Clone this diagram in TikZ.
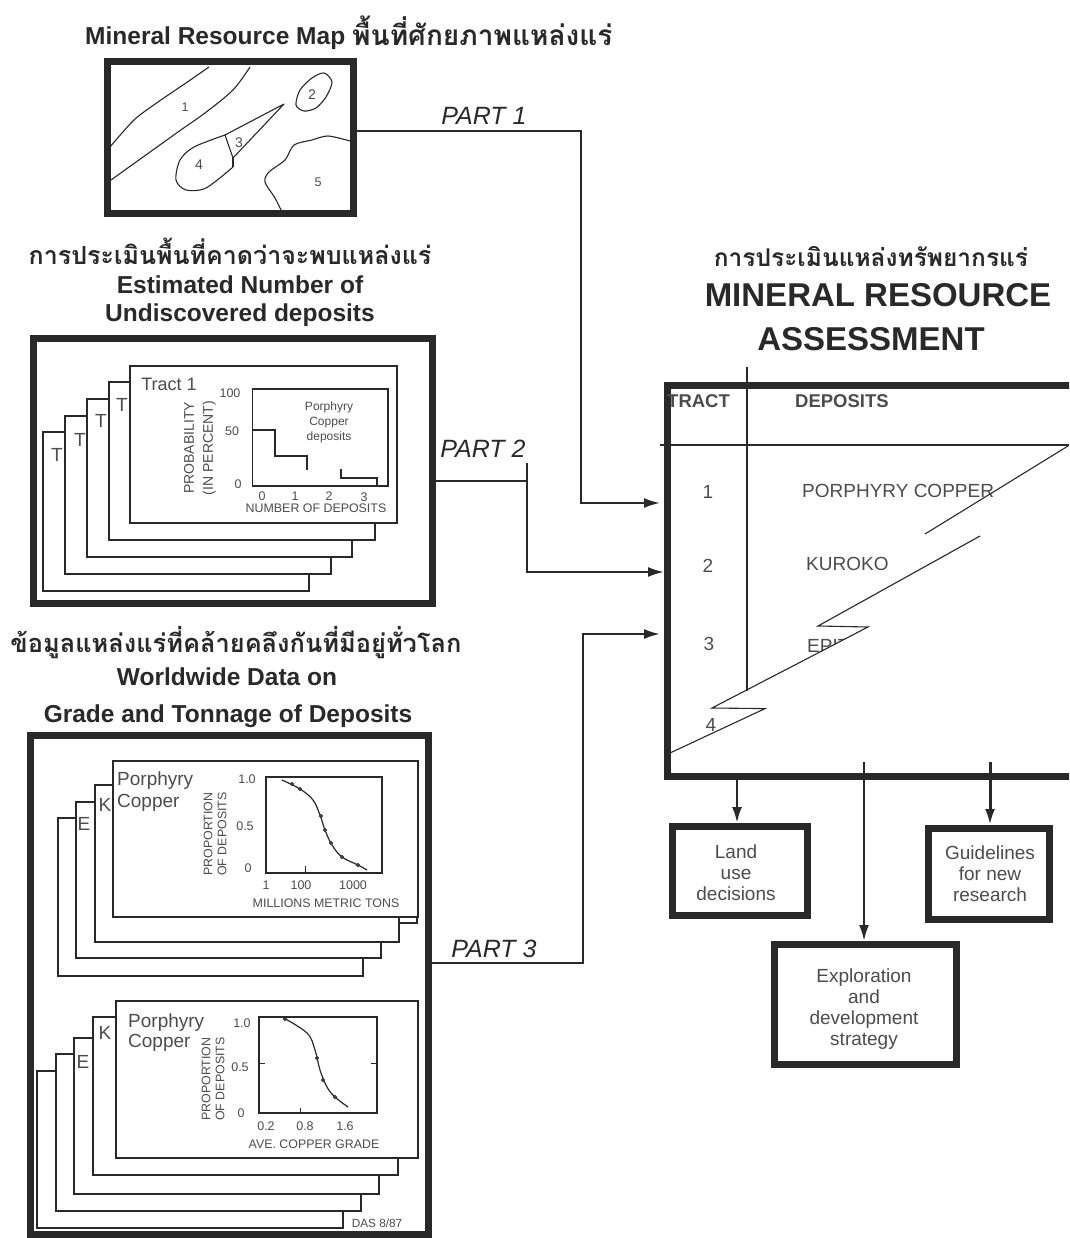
\documentclass[tikz,border=0pt]{standalone}
\usepackage{fontspec}
\setmainfont{Liberation Sans}
\newfontfamily\thaifont[Script=Thai]{Loma}
\usetikzlibrary{arrows.meta}
\definecolor{ink}{gray}{0.16}
\definecolor{soft}{gray}{0.30}
\tikzset{
  frame/.style={draw=ink,fill=white,line width=7pt,inner sep=0pt},
  sheet/.style={draw=ink,fill=white,line width=1.4pt,inner sep=0pt},
  chart/.style={draw=ink,fill=white,line width=1.3pt,inner sep=0pt},
  thin map/.style={draw=ink,line width=1.1pt,line join=round},
  conn/.style={draw=ink,line width=2pt,line join=miter},
  arr/.style={conn,-{Latex[length=16pt,width=10pt]}},
  curve/.style={draw=ink,line width=1.2pt},
  dot/.style={draw=ink,fill=soft,circle,inner sep=0pt,minimum size=3.5pt},
  txt/.style={text=soft,inner sep=0pt,align=center},
  head/.style={text=ink,inner sep=0pt,align=center,anchor=base,font=\bfseries\fontsize{24.5}{28}\selectfont},
  bighead/.style={head,font=\bfseries\fontsize{33}{36}\selectfont},
  thaih/.style={text=ink,inner sep=0pt,anchor=base,font=\thaifont\bfseries\fontsize{25}{28}\selectfont},
  part/.style={text=ink,inner sep=0pt,font=\itshape\fontsize{25}{28}\selectfont},
  lab/.style={txt,font=\fontsize{19}{21}\selectfont},
  mid/.style={txt,font=\fontsize{19}{21}\selectfont},
  tiny/.style={txt,font=\fontsize{12.4}{14}\selectfont},
  tick/.style={txt,font=\fontsize{12.5}{14}\selectfont},
  cellhead/.style={txt,anchor=west,font=\bfseries\fontsize{18.5}{20}\selectfont},
  cell/.style={txt,anchor=west,font=\fontsize{19}{21}\selectfont}
}
% rectangle node from corners: name, style, x1,y1,x2,y2
\newcommand{\rectnode}[6]{%
  \pgfmathsetmacro{\rcx}{(#3+#5)/2}\pgfmathsetmacro{\rcy}{(#4+#6)/2}%
  \pgfmathsetmacro{\rw}{#5-#3}\pgfmathsetmacro{\rh}{#6-#4}%
  \node[#2,minimum width=\rw pt,minimum height=\rh pt] (#1) at (\rcx,\rcy) {};}
\begin{document}
\begin{tikzpicture}[x=1pt,y=-1pt]
\clip (0,0) rectangle (1069,1238);
\fill[white] (0,0) rectangle (1069,1238);

% titles
\node[head,anchor=base west] (t1) at (85,45) {Mineral Resource Map};
\node[thaih,anchor=base west,font=\thaifont\bfseries\fontsize{28}{30}\selectfont] (t1b) at (352,46) {พื้นที่ศักยภาพแหล่งแร่};
\node[thaih] (t2a) at (230,265) {การประเมินพื้นที่คาดว่าจะพบแหล่งแร่};
\node[head] (t2b) at (240,294) {Estimated Number of};
\node[head] (t2c) at (240,321) {Undiscovered deposits};
\node[thaih,font=\thaifont\bfseries\fontsize{25.4}{28}\selectfont] (t3a) at (236,652) {ข้อมูลแหล่งแร่ที่คล้ายคลึงกันที่มีอยู่ทั่วโลก};
\node[head] (t3b) at (227,685) {Worldwide Data on};
\node[head] (t3c) at (228,722) {Grade and Tonnage of Deposits};
\node[thaih,font=\thaifont\bfseries\fontsize{24.5}{28}\selectfont] (t4a) at (871,267) {การประเมินแหล่งทรัพยากรแร่};
\node[bighead] (t4b) at (878,306) {MINERAL RESOURCE};
\node[bighead] (t4c) at (871,350) {ASSESSMENT};

% map
\rectnode{map}{frame}{107.5}{61.5}{353.5}{213.5}
\draw[thin map] plot[smooth,tension=0.5] coordinates {(209,67) (186,83) (158,102) (134,120) (110,147)};
\draw[thin map] plot[smooth,tension=0.5] coordinates {(250,67) (233,90) (205,113) (178,132) (111,180)};
\draw[thin map] (284,104) -- (225,135) -- (233,158) -- cycle;
\draw[thin map] plot[smooth,tension=0.5] coordinates {(225,135) (194,147) (180,160) (176,180) (186,190) (206,188) (233,167)};
\draw[thin map] (233,167) -- (233,158);
\draw[thin map] plot[smooth cycle,tension=0.5] coordinates {(324,73) (312,78) (300,90) (296,105) (304,111) (316,108) (326,97) (332,82)};
\draw[thin map] plot[smooth,tension=0.5] coordinates {(350,141) (328,136) (312,140) (294,145) (285,160) (269,172) (265,182) (275,198) (281,210)};
\node[tick] (m1) at (185,107) {1};
\node[tick,font=\fontsize{14}{16}\selectfont] (m2) at (312,95) {2};
\node[tick,font=\fontsize{14}{16}\selectfont] (m3) at (239,143) {3};
\node[tick,font=\fontsize{14}{16}\selectfont] (m4) at (199,165) {4};
\node[tick] (m5) at (318,182) {5};

% estimated number frame
\rectnode{est}{frame}{33.5}{338.5}{432.5}{603.5}
\rectnode{e5}{sheet}{43}{432}{309}{591}
\rectnode{e4}{sheet}{65}{416}{331}{574}
\rectnode{e3}{sheet}{87}{399}{352}{557}
\rectnode{e2}{sheet}{109}{382}{375}{540}
\rectnode{e1}{sheet}{130}{366}{397}{523}
\node[lab] (et5) at (57,455) {T};
\node[lab] (et4) at (80,440) {T};
\node[lab] (et3) at (101,421) {T};
\node[lab] (et2) at (122,405) {T};
\node[lab,font=\fontsize{18}{20}\selectfont] (et1) at (169,384) {Tract 1};
\rectnode{ec}{chart}{252.5}{389}{388}{486}
\draw[line width=2pt,draw=ink] (253,430) -| (275,456) -| (307,470);
\draw[line width=1.8pt,draw=ink] (341,469) |- (377,478) -- (377,486);
\node[tiny,font=\fontsize{12}{15}\selectfont] (ep) at (329,422) {Porphyry\\Copper\\deposits};
\node[tick] (ey1) at (230,393) {100};
\node[tick] (ey2) at (232,431) {50};
\node[tick] (ey3) at (238,484) {0};
\node[tick] (ex0) at (262,496) {0};
\node[tick] (ex1) at (295,496) {1};
\node[tick] (ex2) at (329,496) {2};
\node[tick] (ex3) at (364,497) {3};
\node[tiny] (ext) at (316,508) {NUMBER OF DEPOSITS};
\node[tiny,rotate=90,font=\fontsize{14}{19}\selectfont] (eyt) at (200,448) {PROBABILITY\\(IN PERCENT)};

% worldwide frame
\rectnode{wld}{frame}{30.5}{735.5}{428.5}{1234.5}
\rectnode{u4}{sheet}{58}{818}{363}{976}
\rectnode{u3}{sheet}{76}{802}{381}{958}
\rectnode{u2b}{sheet}{95}{785}{417}{923}
\rectnode{u2}{sheet}{95}{785}{399}{942}
\rectnode{u1}{sheet}{113}{761}{418}{917}
\node[lab] (uk) at (105,805) {K};
\node[lab] (ue) at (84,824) {E};
\node[lab,anchor=west] (up) at (117,781) {Porphyry};
\node[lab,anchor=west] (uc) at (117,803) {Copper};
\rectnode{uch}{chart}{266}{777}{382}{873}
\draw[curve] plot[smooth,tension=0.6] coordinates {(282,780) (300,789) (313,800) (320,815) (325,830) (332,845) (342,857) (358,865) (367,870)};
\foreach \n/\px/\py in {a/292/784,b/300/789,c/321/816,d/325/830,e/331/843,f/342/857,g/358/865}
  \node[dot] (ud\n) at (\px,\py) {};
\draw[draw=ink,line width=1pt] (305,866) -- (305,873);
\node[tick] (uy1) at (247,779) {1.0};
\node[tick] (uy2) at (245,826) {0.5};
\node[tick] (uy3) at (248,868) {0};
\node[tick] (ux1) at (266,885) {1};
\node[tick] (ux2) at (301,885) {100};
\node[tick] (ux3) at (353,885) {1000};
\node[tiny] (uxt) at (326,903) {MILLIONS METRIC TONS};
\node[tiny,rotate=90] (uyt) at (215,834) {PROPORTION\\OF DEPOSITS};

\rectnode{l5}{sheet}{37}{1071}{343}{1228}
\rectnode{l4}{sheet}{56}{1054}{361}{1211}
\rectnode{l3}{sheet}{74}{1038}{379}{1194}
\rectnode{l2}{sheet}{93}{1017}{398}{1175}
\rectnode{l1}{sheet}{116}{1001}{418}{1158}
\node[lab] (lk) at (105,1033) {K};
\node[lab] (le) at (83,1062) {E};
\node[lab,anchor=west] (lp) at (128,1023) {Porphyry};
\node[lab,anchor=west] (lc) at (128,1043) {Copper};
\rectnode{lch}{chart}{259}{1017}{377}{1113}
\draw[curve] plot[smooth,tension=0.6] coordinates {(282,1017) (307,1033) (315,1050) (320,1070) (327,1087) (335,1097) (348,1107)};
\foreach \n/\px/\py in {a/285/1019,b/317/1058,c/323/1080,d/335/1097}
  \node[dot] (ld\n) at (\px,\py) {};
\draw[draw=ink,line width=1pt] (300,1108) -- (300,1113);
\draw[draw=ink,line width=1pt] (259,1063) -- (265,1063);
\draw[draw=ink,line width=1pt] (371,1063) -- (377,1063);
\node[tick] (ly1) at (242,1023) {1.0};
\node[tick] (ly2) at (240,1067) {0.5};
\node[tick] (ly3) at (241,1113) {0};
\node[tick] (lx1) at (266,1126) {0.2};
\node[tick] (lx2) at (305,1126) {0.8};
\node[tick] (lx3) at (345,1126) {1.6};
\node[tiny] (lxt) at (314,1144) {AVE. COPPER GRADE};
\node[tiny,rotate=90] (lyt) at (213,1079) {PROPORTION\\OF DEPOSITS};
\node[tiny,font=\fontsize{11.8}{13}\selectfont] (das) at (377,1223) {DAS 8/87};

% assessment frame
\rectnode{ass}{frame}{667}{385}{1085}{776.5}
\draw[draw=ink,line width=1.6pt] (747,367) -- (747,691);
\draw[draw=ink,line width=1.6pt] (660,445) -- (1069,445);
\node[cellhead] (trh) at (667,401) {TRACT};
\node[cellhead] (deh) at (795,401) {DEPOSITS};
\node[mid] (r1) at (708,492) {1};
\node[mid] (r2) at (708,566) {2};
\node[mid] (r3) at (709,644) {3};
\node[mid] (r4) at (711,725) {4};
\node[cell] (d1) at (802,491) {PORPHYRY COPPER};
\node[cell] (d2) at (806,564) {KUROKO};
\begin{scope}
\clip (800,630) -- (868,627) -- (800,662) -- cycle;
\node[cell] (d3) at (807,646) {EPITHERMAL};
\end{scope}
\draw[draw=ink,line width=1.1pt] (1068,446) -- (925,534);
\draw[draw=ink,line width=1.1pt,line join=miter] (980,536) -- (818,626) -- (868,627) -- (712,708) -- (765,708.6) -- (670,753);

% outcome boxes
\rectnode{land}{frame}{672.5}{826.5}{807.5}{915.5}
\rectnode{guide}{frame}{928.5}{828.5}{1049.5}{919.5}
\rectnode{expl}{frame}{774.5}{944.5}{956.5}{1064.5}
\node[mid] (tl) at (736,873) {Land\\use\\decisions};
\node[mid] (tg) at (990,874) {Guidelines\\for new\\research};
\node[mid] (te) at (864,1009) {Exploration\\and\\development\\strategy};

% connectors
\coordinate (p1a) at (581,131);
\coordinate (p1b) at (581,503);
\coordinate (a1) at (660,503);
\draw[arr] (map.east |- p1a) -- (p1a) -- (p1b) -- (a1);
\coordinate (p2a) at (527,481);
\coordinate (p2t) at (527,463);
\coordinate (p2b) at (527,572);
\coordinate (a2) at (664,572);
\draw[conn] (est.east |- p2a) -- (p2a);
\draw[arr] (p2t) -- (p2b) -- (a2);
\coordinate (p3a) at (583,963);
\coordinate (p3b) at (583,634);
\coordinate (a3) at (660,634);
\draw[arr] (wld.east |- p3a) -- (p3a) -- (p3b) -- (a3);
\coordinate (s1) at (737,780);
\coordinate (s2) at (864,762);
\coordinate (s3) at (990,762);
\draw[arr,line width=2.6pt] (s1) -- (land.north -| s1);
\draw[arr,line width=2.4pt] (s2) -- (expl.north -| s2);
\draw[arr,line width=3pt] (s3) -- (guide.north -| s3);
\node[part] (pl1) at (484,116) {PART 1};
\node[part] (pl2) at (483,449) {PART 2};
\node[part] (pl3) at (494,949) {PART 3};
\end{tikzpicture}
\end{document}
